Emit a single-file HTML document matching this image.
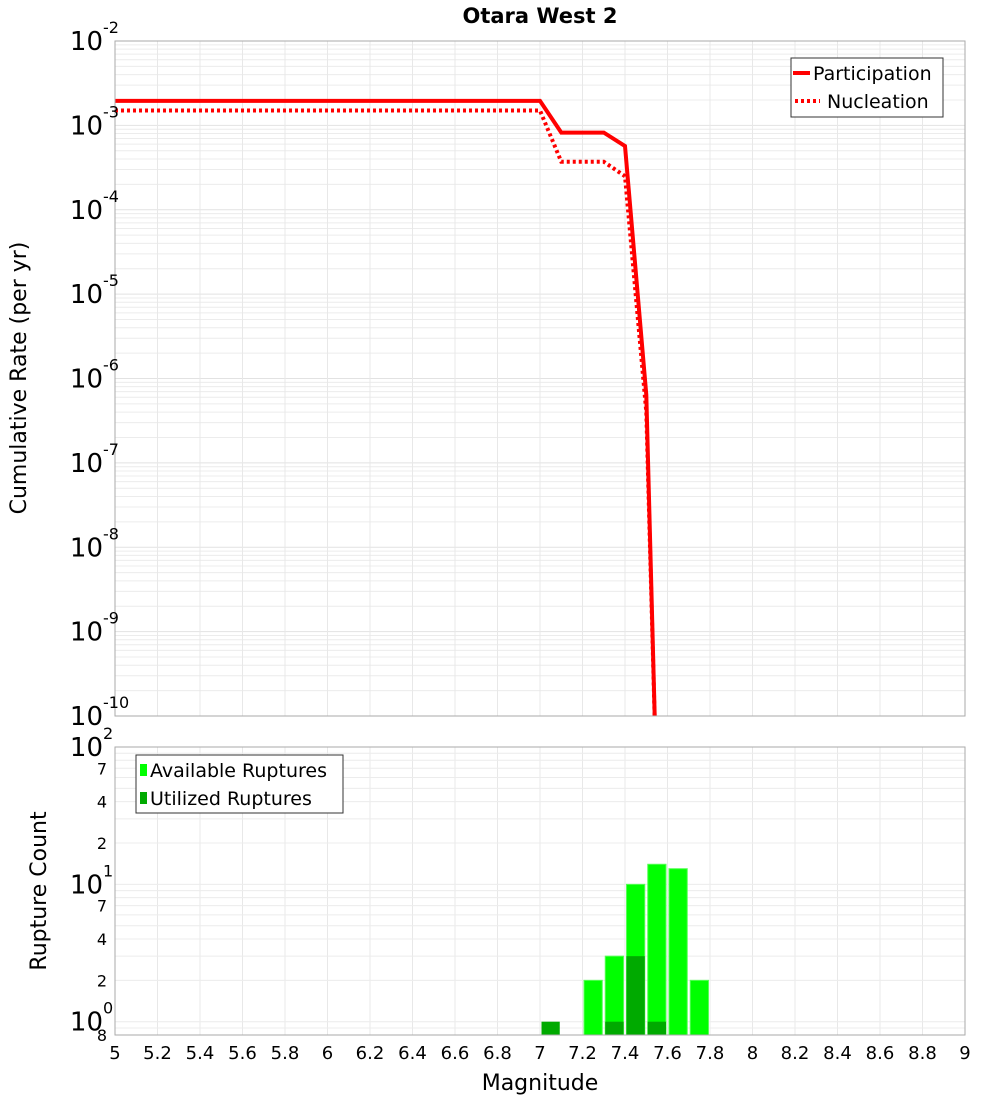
<!DOCTYPE html>
<html><head><meta charset="utf-8"><style>
html,body{margin:0;padding:0;background:#fff;}
svg text{font-family:"DejaVu Sans","Liberation Sans",sans-serif;fill:#000;}
</style></head><body>
<svg id="c" width="1000" height="1100" xmlns="http://www.w3.org/2000/svg">
<text x="540" y="23" text-anchor="middle" font-size="21" font-weight="bold">Otara West 2</text>
<g id="gtop"></g><g id="gbot"></g>
<text transform="translate(26,378) rotate(-90)" text-anchor="middle" font-size="22">Cumulative Rate (per yr)</text>
<text transform="translate(46,891) rotate(-90)" text-anchor="middle" font-size="22">Rupture Count</text>
<text x="540" y="1090" text-anchor="middle" font-size="22">Magnitude</text>
</svg>
<script>
const xTicks=[5,5.2,5.4,5.6,5.8,6,6.2,6.4,6.6,6.8,7,7.2,7.4,7.6,7.8,8,8.2,8.4,8.6,8.8,9];
const partMag=[5,7.0,7.1,7.3,7.4,7.5,7.55];
const partRate=[1.95e-3,1.95e-3,8.2e-4,8.2e-4,5.7e-4,6.4e-7,1e-11];
const nuclMag=[5,7.0,7.1,7.3,7.4,7.5,7.55];
const nuclRate=[1.5e-3,1.5e-3,3.7e-4,3.7e-4,2.5e-4,4e-7,1e-11];
const binMag=[7.05,7.25,7.35,7.45,7.55,7.65,7.75];
const availCount=[0,2,3,10,14,13,2];
const usedCount=[1,0,1,3,1,0,0];
const topExps=[-2,-3,-4,-5,-6,-7,-8,-9,-10];

const NS="http://www.w3.org/2000/svg";
const PL=115,PR=965,T1=41,B1=716,T2=747,B2=1035;
const X=m=>PL+(m-5)/4*(PR-PL);
const Y1=v=>T1+(-2-Math.log10(v))/8*(B1-T1);
const lo2=Math.log10(0.8),hi2=2;
const Y2=v=>T2+(hi2-Math.log10(v))/(hi2-lo2)*(B2-T2);
function el(p,t,a,txt){const e=document.createElementNS(NS,t);for(const k in a)e.setAttribute(k,a[k]);if(txt!==undefined)e.textContent=txt;p.appendChild(e);return e;}
const gTop=document.getElementById('gtop'),gBot=document.getElementById('gbot');

for(let d=-10;d<-2;d++)for(let k=1;k<10;k++){const y=Y1(k*Math.pow(10,d));
 const g=el(gTop,'line',{x1:PL,x2:PR,y1:y,y2:y,stroke:k==1?'#e2e2e2':'#ececec','stroke-width':1});
 
 }
xTicks.forEach(m=>{const g=el(gTop,'line',{x1:X(m),x2:X(m),y1:T1,y2:B1,stroke:'#e8e8e8'});
 
 
 const g2=el(gBot,'line',{x1:X(m),x2:X(m),y1:T2,y2:B2,stroke:'#e8e8e8'});
 
 });
const clipTop=el(gTop,'clipPath',{id:'cp1'});el(clipTop,'rect',{x:PL,y:T1,width:PR-PL,height:B1-T1});
function path(ms,vs){return ms.map((m,i)=>(i?'L':'M')+X(m).toFixed(1)+' '+Y1(vs[i]).toFixed(1)).join(' ');}
const p1=el(gTop,'path',{d:path(partMag,partRate),fill:'none',stroke:'#ff0000','stroke-width':4,'clip-path':'url(#cp1)'});


const p2=el(gTop,'path',{d:path(nuclMag,nuclRate),fill:'none',stroke:'#ff0000','stroke-width':4,'stroke-dasharray':'3 3','clip-path':'url(#cp1)'});


const f1=el(gTop,'rect',{x:PL,y:T1,width:PR-PL,height:B1-T1,fill:'none',stroke:'#aaa'});


topExps.forEach(e=>{const y=Y1(Math.pow(10,e));
 const t=el(gTop,'text',{x:103,y:y+9,'text-anchor':'end','font-size':26},'10');
 
 
 const s=el(gTop,'text',{x:103,y:y-8,'font-size':16},String(e));
 
 });
const lg=el(gTop,'g',{});


el(lg,'rect',{x:791,y:58,width:152,height:59,fill:'#fff',stroke:'#333'});
el(lg,'line',{x1:793,x2:810,y1:73,y2:73,stroke:'#f00','stroke-width':4});
el(lg,'text',{x:813,y:80,'font-size':19},'Participation');
el(lg,'line',{x1:795,x2:820,y1:101,y2:101,stroke:'#f00','stroke-width':4,'stroke-dasharray':'3 3'});
el(lg,'text',{x:827,y:108,'font-size':19},'Nucleation');

for(let d=-1;d<2;d++)for(let k=1;k<10;k++){const v=k*Math.pow(10,d);if(v<0.8)continue;const y=Y2(v);
 const g=el(gBot,'line',{x1:PL,x2:PR,y1:y,y2:y,stroke:'#ececec'});
 
 }
binMag.forEach((m,i)=>{const x0=X(m-0.05)+1.5,w=X(m+0.05)-X(m-0.05)-3;
 if(availCount[i]>0){const r=el(gBot,'rect',{x:x0,y:Y2(availCount[i]),width:w,height:B2-Y2(availCount[i]),fill:'#00ff00',stroke:'#5f5','stroke-width':1});
  
  }
 if(usedCount[i]>0){const r=el(gBot,'rect',{x:x0,y:Y2(usedCount[i]),width:w,height:B2-Y2(usedCount[i]),fill:'#00aa00'});
  
  }});
const f2=el(gBot,'rect',{x:PL,y:T2,width:PR-PL,height:B2-T2,fill:'none',stroke:'#aaa'});


[[100,'10','2'],[10,'10','1'],[1,'10','0']].forEach(([v,b,e])=>{const y=Y2(v);
 const t=el(gBot,'text',{x:103,y:y+9,'text-anchor':'end','font-size':26},b);
 
 
 const s=el(gBot,'text',{x:103,y:y-8,'font-size':16},e);
 
 });
[[70,'7'],[40,'4'],[20,'2'],[7,'7'],[4,'4'],[2,'2'],[0.8,'8']].forEach(([v,s])=>{
 const t=el(gBot,'text',{x:107,y:Y2(v)+6,'text-anchor':'end','font-size':16},s);
 
 });
xTicks.forEach(m=>{const t=el(gBot,'text',{x:X(m),y:1059,'text-anchor':'middle','font-size':18},String(m));
 
 });
const lg2=el(gBot,'g',{});


el(lg2,'rect',{x:136,y:755,width:207,height:58,fill:'#fff',stroke:'#333'});
el(lg2,'rect',{x:140,y:764,width:7,height:12,fill:'#00ff00'});
el(lg2,'text',{x:150,y:777,'font-size':19},'Available Ruptures');
el(lg2,'rect',{x:140,y:792,width:7,height:12,fill:'#00aa00'});
el(lg2,'text',{x:150,y:805,'font-size':19},'Utilized Ruptures');
</script>
</body></html>
